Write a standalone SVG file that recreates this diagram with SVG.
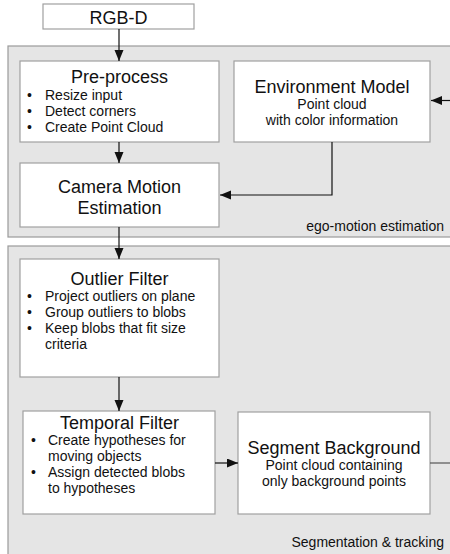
<svg xmlns="http://www.w3.org/2000/svg" width="450" height="554" viewBox="0 0 450 554">
<style>
.grp{fill:#e5e5e5;stroke:#9a9a9a;stroke-width:1.2}
.box{fill:#fff;stroke:#a0a0a0;stroke-width:1.2}
text{font-family:"Liberation Sans",Arial,sans-serif;fill:#111}
.t{font-size:18px;text-anchor:middle}
.s{font-size:14px}
.c{font-size:14px;text-anchor:middle}
.e{font-size:14px;text-anchor:end}
.ln{fill:none;stroke:#111;stroke-width:1.2}
</style>
<defs>
<marker id="ah" markerUnits="userSpaceOnUse" markerWidth="12" markerHeight="10" refX="11" refY="4.5" orient="auto">
<path d="M0,0 L11,4.5 L0,9 z" fill="#111"/>
</marker>
</defs>
<rect class="grp" x="8" y="46" width="460" height="191"/>
<rect class="grp" x="8" y="246" width="460" height="330"/>
<text class="e" x="444" y="231">ego-motion estimation</text>
<text class="e" x="444" y="547">Segmentation &amp; tracking</text>

<g id="rgbd">
<rect class="box" x="43" y="4" width="151" height="25"/>
<text class="t" x="118.5" y="24">RGB-D</text>
</g>
<g id="preprocess">
<rect class="box" x="20" y="61" width="199" height="81"/>
<text class="t" x="119.5" y="83">Pre-process</text>
<text class="s" x="27" y="100">•</text><text class="s" x="45" y="100">Resize input</text>
<text class="s" x="27" y="116">•</text><text class="s" x="45" y="116">Detect corners</text>
<text class="s" x="27" y="132">•</text><text class="s" x="45" y="132">Create Point Cloud</text>
</g>
<g id="envmodel">
<rect class="box" x="234" y="61" width="196" height="81"/>
<text class="t" x="332" y="93">Environment Model</text>
<text class="c" x="332" y="109">Point cloud</text>
<text class="c" x="332" y="125">with color information</text>
</g>
<g id="camera">
<rect class="box" x="20" y="163" width="199" height="64"/>
<text class="t" x="119.5" y="193">Camera Motion</text>
<text class="t" x="119.5" y="214">Estimation</text>
</g>
<g id="outlier">
<rect class="box" x="20" y="259" width="199" height="118"/>
<text class="t" x="119.5" y="285">Outlier Filter</text>
<text class="s" x="27" y="301">•</text><text class="s" x="45" y="301">Project outliers on plane</text>
<text class="s" x="27" y="317">•</text><text class="s" x="45" y="317">Group outliers to blobs</text>
<text class="s" x="27" y="333">•</text><text class="s" x="45" y="333">Keep blobs that fit size</text>
<text class="s" x="45" y="349">criteria</text>
</g>
<g id="temporal">
<rect class="box" x="23" y="411" width="192" height="103"/>
<text class="t" x="119.5" y="429">Temporal Filter</text>
<text class="s" x="31" y="445">•</text><text class="s" x="48" y="445">Create hypotheses for</text>
<text class="s" x="48" y="461">moving objects</text>
<text class="s" x="31" y="477">•</text><text class="s" x="48" y="477">Assign detected blobs</text>
<text class="s" x="48" y="493">to hypotheses</text>
</g>
<g id="segment">
<rect class="box" x="238" y="412" width="192" height="102"/>
<text class="t" x="334" y="454">Segment Background</text>
<text class="c" x="334" y="470">Point cloud containing</text>
<text class="c" x="334" y="486">only background points</text>
</g>

<g id="connectors">
<path class="ln" d="M119,29 V61" marker-end="url(#ah)"/>
<path class="ln" d="M119,142 V163" marker-end="url(#ah)"/>
<path class="ln" d="M332,142 V195 H220" marker-end="url(#ah)"/>
<path class="ln" d="M450,100.5 H431" marker-end="url(#ah)"/>
<path class="ln" d="M119,227 V259" marker-end="url(#ah)"/>
<path class="ln" d="M119,377 V411" marker-end="url(#ah)"/>
<path class="ln" d="M215,463 H238" marker-end="url(#ah)"/>
<path class="ln" d="M430,463 H450" style="stroke:#555"/>
</g>
</svg>
